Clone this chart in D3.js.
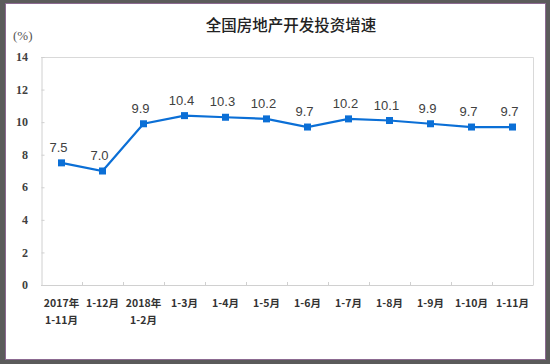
<!DOCTYPE html>
<html>
<head>
<meta charset="utf-8">
<script src="https://cdn.jsdelivr.net/npm/d3@7"></script>
<style>
  html, body { margin: 0; padding: 0; background: #5b5b5b; }
  svg { display: block; }
</style>
</head>
<body>
<svg id="chart" width="550" height="364"></svg>
<script>
const title = '全国房地产开发投资增速';
const unitLabel = '(%)';
const categories = [
    ['2017年', '1-11月'], ['1-12月'], ['2018年', '1-2月'], ['1-3月'], ['1-4月'], ['1-5月'],
    ['1-6月'], ['1-7月'], ['1-8月'], ['1-9月'], ['1-10月'], ['1-11月']
];
const growth = [7.5, 7.0, 9.9, 10.4, 10.3, 10.2, 9.7, 10.2, 10.1, 9.9, 9.7, 9.7];
const yTicks = [0, 2, 4, 6, 8, 10, 12, 14];

const svg = d3.select('#chart');
const plot = { left: 41, right: 533, top: 57, bottom: 285 };
const lineColor = '#0b6fd6';
const cjk = '"Noto Sans CJK SC", "DejaVu Sans", sans-serif';

// page frame
svg.append('rect')
    .attr('x', 5.5).attr('y', 3.5)
    .attr('width', 540).attr('height', 356)
    .attr('fill', '#fff')
    .attr('stroke', '#8c6a91');

const x = d3.scaleBand()
    .domain(d3.range(categories.length))
    .range([plot.left, plot.right]);
const y = d3.scaleLinear().domain([0, 14]).range([plot.bottom, plot.top]);

// plot border (top/right light)
svg.append('path')
    .attr('d', `M${plot.left},${plot.top + 0.5}H${plot.right + 0.5}V${plot.bottom}`)
    .attr('fill', 'none')
    .attr('stroke', '#d9d9d9');

// y axis
const yAxis = svg.append('g')
    .attr('transform', `translate(${plot.left + 0.5},0)`)
    .call(d3.axisRight(y).tickValues(yTicks).tickSize(3).tickFormat(''));
yAxis.select('.domain').attr('stroke', '#d0d0d0');
yAxis.selectAll('.tick line').attr('stroke', '#d0d0d0');

svg.append('g')
    .selectAll('text')
    .data(yTicks)
    .enter()
    .append('text')
    .attr('x', 28)
    .attr('y', d => y(d))
    .attr('dy', '0.35em')
    .attr('text-anchor', 'end')
    .attr('font-family', '"Liberation Serif", serif')
    .attr('font-weight', 'bold')
    .attr('font-size', 12)
    .attr('fill', '#404040')
    .text(d => d);

// x axis with boundary ticks
svg.append('line')
    .attr('x1', plot.left).attr('x2', plot.right + 0.5)
    .attr('y1', plot.bottom + 0.5).attr('y2', plot.bottom + 0.5)
    .attr('stroke', '#d0d0d0');
svg.append('g')
    .selectAll('line')
    .data(d3.range(1, categories.length))
    .enter()
    .append('line')
    .attr('x1', d => Math.round(x(d)) + 0.5)
    .attr('x2', d => Math.round(x(d)) + 0.5)
    .attr('y1', plot.bottom)
    .attr('y2', plot.bottom - 3)
    .attr('stroke', '#d0d0d0');

const xLabels = svg.append('g')
    .selectAll('text')
    .data(categories)
    .enter()
    .append('text')
    .attr('x', (d, i) => x(i) + x.bandwidth() / 2)
    .attr('y', 307)
    .attr('text-anchor', 'middle')
    .attr('font-family', cjk)
    .attr('font-size', 10.5)
    .attr('font-weight', 'bold')
    .attr('fill', '#333');
xLabels.selectAll('tspan')
    .data(d => d)
    .enter()
    .append('tspan')
    .attr('x', function () { return this.parentNode.getAttribute('x'); })
    .attr('dy', (d, i) => i === 0 ? 0 : 17)
    .text(d => d);

// line
const cx = i => x(i) + x.bandwidth() / 2;
const line = d3.line()
    .x((d, i) => cx(i))
    .y(d => y(d));

svg.append('path')
    .datum(growth)
    .attr('d', line)
    .attr('fill', 'none')
    .attr('stroke', lineColor)
    .attr('stroke-width', 2.2);

svg.append('g')
    .selectAll('rect')
    .data(growth)
    .enter()
    .append('rect')
    .attr('x', (d, i) => cx(i) - 3.5)
    .attr('y', d => y(d) - 3.5)
    .attr('width', 7)
    .attr('height', 7)
    .attr('fill', lineColor);

// value labels
svg.append('g')
    .selectAll('text')
    .data(growth)
    .enter()
    .append('text')
    .attr('x', (d, i) => cx(i) - 3)
    .attr('y', d => y(d) - 11)
    .attr('text-anchor', 'middle')
    .attr('font-family', '"Liberation Sans", Arial, sans-serif')
    .attr('font-size', 13)
    .attr('fill', '#404040')
    .text(d => d.toFixed(1));

// title and unit
svg.append('text')
    .attr('x', 291)
    .attr('y', 31)
    .attr('text-anchor', 'middle')
    .attr('font-family', cjk)
    .attr('font-size', 15.5)
    .attr('font-weight', 500)
    .attr('fill', '#222')
    .text(title);

svg.append('text')
    .attr('x', 13)
    .attr('y', 40)
    .attr('font-family', '"Liberation Serif", serif')
    .attr('font-size', 13)
    .attr('fill', '#555')
    .text(unitLabel);
</script>
</body>
</html>
